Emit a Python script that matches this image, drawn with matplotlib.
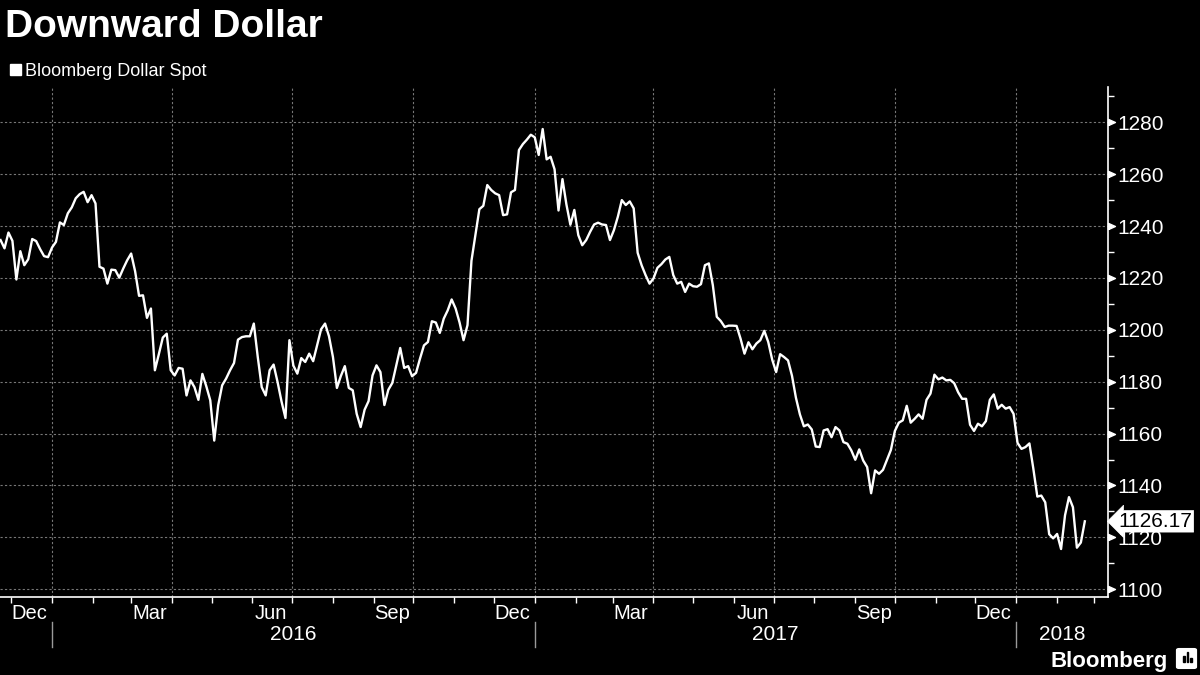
import matplotlib
matplotlib.use("Agg")
import matplotlib.pyplot as plt
import matplotlib.dates as mdates
from matplotlib.patches import Rectangle, FancyBboxPatch
from matplotlib.ticker import MultipleLocator, NullFormatter, FixedLocator
import pandas as pd

plt.rcParams['font.family'] = ['Liberation Sans', 'DejaVu Sans']

title = "Downward Dollar"
series_name = "Bloomberg Dollar Spot"
logo_text = "Bloomberg"

# index level read every 3 days, starting 2015-11-23
start_date = "2015-11-23"
step = "3D"
values_a = [1234.6, 1231.4, 1237.5, 1234.3, 1219.4, 1230.3, 1224.9, 1227.2, 1235.0, 1234.2,
            1231.1, 1228.4, 1228.0, 1231.7, 1233.9, 1241.4, 1240.4, 1244.9, 1247.2, 1250.7,
            1252.3, 1253.2, 1249.2, 1251.9, 1248.7, 1224.3, 1223.6, 1217.8, 1223.2, 1223.0,
            1220.1, 1223.6, 1226.8, 1229.4, 1222.6, 1213.1, 1213.3, 1204.6, 1208.2, 1184.4,
            1190.6, 1197.0, 1198.5, 1184.4, 1182.4, 1185.3, 1185.0, 1174.7, 1180.5, 1177.9,
            1173.0, 1183.0, 1178.2, 1172.8, 1157.3, 1170.9, 1178.6, 1181.2, 1184.4, 1187.2,
            1196.2, 1197.2, 1197.5, 1197.5, 1202.4, 1189.5, 1177.9, 1174.7, 1184.4, 1186.6,
            1179.9, 1172.4, 1166.0, 1196.0, 1186.2, 1183.1, 1189.1, 1187.6, 1190.8, 1187.9,
            1194.0, 1200.2, 1202.4, 1197.5, 1189.5, 1177.6, 1182.2, 1186.0, 1177.6, 1176.7,
            1167.6, 1162.5, 1169.2, 1172.5, 1182.4, 1186.3, 1183.7, 1171.0, 1176.9, 1179.5,
            1186.2, 1193.0]
values_b = [1185.3, 1186.0, 1182.1, 1183.4, 1188.9, 1194.0, 1195.3, 1203.3, 1202.8, 1198.8,
            1204.3, 1207.5, 1211.7, 1208.2, 1202.8, 1196.0, 1201.8, 1226.6, 1236.5, 1246.5,
            1247.8, 1255.8, 1253.9, 1252.6, 1251.9, 1244.2, 1244.5, 1253.0, 1253.9, 1269.3,
            1271.6, 1273.3, 1275.2, 1274.2, 1267.4, 1277.4, 1265.7, 1266.7, 1261.9, 1246.0,
            1258.1, 1248.3, 1240.5, 1246.2, 1236.5, 1232.6, 1234.6, 1237.8, 1240.6, 1241.3,
            1240.6, 1240.4, 1234.6, 1238.4, 1243.6, 1250.0, 1248.1, 1249.5, 1246.8, 1229.7,
            1224.9, 1221.1, 1217.8, 1219.8, 1223.9, 1225.3, 1227.1, 1228.1, 1221.1, 1217.8,
            1218.5, 1214.6, 1217.8, 1216.8, 1216.6, 1217.6, 1224.9, 1225.6, 1217.2, 1205.0,
            1203.4, 1201.1, 1201.6, 1201.6, 1201.5, 1196.6, 1190.8, 1195.2, 1192.5, 1194.7,
            1196.0, 1199.6, 1195.3, 1188.5, 1183.7, 1190.6, 1189.5, 1188.2, 1182.3, 1173.8,
            1167.4]
values_c = [1162.8, 1163.5, 1161.6, 1155.0, 1154.8, 1161.2, 1161.7, 1158.6, 1162.5, 1161.2,
            1156.7, 1156.1, 1153.5, 1149.9, 1153.9, 1149.6, 1147.1, 1137.0, 1145.8, 1144.5,
            1146.0, 1149.9, 1153.7, 1161.0, 1164.2, 1165.1, 1170.7, 1164.2, 1165.7, 1167.4,
            1165.7, 1173.0, 1175.4, 1182.7, 1180.9, 1181.6, 1180.5, 1180.7, 1179.4, 1175.9,
            1173.4, 1173.4, 1163.4, 1161.0, 1163.8, 1162.8, 1164.8, 1173.0, 1175.1, 1169.6,
            1171.1, 1169.6, 1170.2, 1167.6, 1156.4, 1154.1, 1154.8, 1156.2, 1146.4, 1135.7,
            1136.1, 1133.5, 1121.2, 1119.6, 1121.3, 1115.5, 1128.5, 1135.5, 1131.6, 1116.0,
            1118.0, 1126.17]
last_label = "1126.17"

y_ticks = list(range(1100, 1281, 20))
month_label_months = [3, 6, 9, 12]
years = [2016, 2017, 2018]
x_start = pd.Timestamp("2015-11-22 14:00")
x_end = pd.Timestamp("2018-03-11 14:00")

values = values_a + values_b + values_c
dates = pd.date_range(start_date, periods=len(values), freq=step)

W, H = 1200, 675
fig = plt.figure(figsize=(12, 6.75), dpi=100, facecolor='black')
ax = fig.add_axes([0, 1 - 597 / H, 1108 / W, (597 - 87) / H])
ax.set_facecolor('black')

ax.plot(dates, values, color='white', lw=1.7, solid_joinstyle='round')

ax.set_xlim(x_start, x_end)
ax.set_ylim(1097, 1293.6)

# spines
for s in ['left', 'top']:
    ax.spines[s].set_visible(False)
ax.spines['right'].set_color('white')
ax.spines['bottom'].set_color('white')
ax.spines['right'].set_linewidth(1.2)
ax.spines['bottom'].set_linewidth(1.2)

# y axis on right
ax.yaxis.tick_right()
ax.yaxis.set_major_locator(FixedLocator(y_ticks))
ax.yaxis.set_minor_locator(MultipleLocator(10))
ax.tick_params(axis='y', which='major', length=0, pad=7, labelsize=15, labelcolor='white')
ax.tick_params(axis='y', which='minor', length=4, width=1, color='white', direction='out')
ax.yaxis.grid(True, which='major', color='#777777', lw=0.8, ls=(0, (2, 2)))
ax.plot([1.0] * len(y_ticks), y_ticks, ls='', marker=[(0, -0.45), (1, 0), (0, 0.45), (0, -0.45)],
        ms=10, color='white', transform=ax.get_yaxis_transform(), clip_on=False)

# x axis: month ticks, quarter labels
ax.xaxis.set_major_locator(mdates.MonthLocator())
ax.xaxis.set_major_formatter(NullFormatter())
ax.xaxis.set_minor_locator(mdates.MonthLocator(bymonth=month_label_months, bymonthday=15))
ax.xaxis.set_minor_formatter(mdates.DateFormatter('%b'))
ax.tick_params(axis='x', which='major', length=4, width=1, color='white', direction='out')
ax.tick_params(axis='x', which='minor', length=0, pad=5, labelsize=14.5, labelcolor='white')

for d in pd.date_range("2016-01-01", x_end, freq='QS'):
    ax.axvline(d, color='#777777', lw=0.8, ls=(0, (2, 2)), zorder=0)

xt = ax.get_xaxis_transform()
for yr in years:
    y0 = pd.Timestamp(f"{yr}-01-01")
    y1 = min(pd.Timestamp(f"{yr + 1}-01-01"), x_end)
    mid = y0 + (y1 - y0) / 2
    ax.text(mid, -37 / 510, str(yr), transform=xt, ha='center', va='center',
            color='white', fontsize=15)
    ax.plot([y0, y0], [-25 / 510, -50 / 510], transform=xt, color='#9a9a9a', lw=1, clip_on=False)

# last value tag
ax.text(1.0095, values[-1], last_label, transform=ax.get_yaxis_transform(), ha='left', va='center',
        color='black', fontsize=15,
        bbox=dict(boxstyle='larrow,pad=0.06', fc='white', ec='white', lw=0.5))

# title and legend
fig.text(5 / W, 1 - 37 / H, title, fontsize=28, fontweight='bold', color='white', va='baseline')
fig.patches.append(Rectangle((10 / W, 1 - 75 / H), 11 / W, 11 / H, transform=fig.transFigure,
                             color='white'))
fig.text(25 / W, 1 - 76 / H, series_name, fontsize=13, color='white', va='baseline')

# logo
fig.text(1168 / W, 1 - 667 / H, logo_text, fontsize=16, fontweight='bold', color='white',
         ha='right', va='baseline')
fig.patches.append(FancyBboxPatch((1179 / W, 1 - 667 / H), 15 / W, 17 / H,
                                  boxstyle='round,pad=0.002', transform=fig.transFigure,
                                  fc='white', ec='white'))
for bx, bh in [(1183, 6), (1186.5, 10), (1190, 4)]:
    fig.patches.append(Rectangle((bx / W, 1 - 662 / H), 1.6 / W, bh / H,
                                 transform=fig.transFigure, color='black'))

fig.savefig("out.png", dpi=100, facecolor='black')
